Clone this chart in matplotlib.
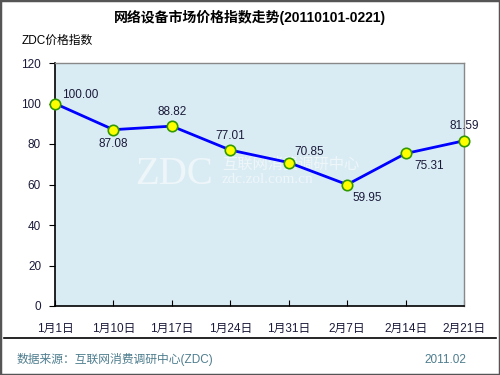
import matplotlib
matplotlib.use("Agg")
import matplotlib.pyplot as plt
from matplotlib.patches import Rectangle

plt.rcParams['font.family'] = ['Liberation Sans', 'Noto Sans CJK SC', 'DejaVu Sans']

categories = ["1月1日", "1月10日", "1月17日", "1月24日", "1月31日", "2月7日", "2月14日", "2月21日"]
values = [100.00, 87.08, 88.82, 77.01, 70.85, 59.95, 75.31, 81.59]
yticks = [0, 20, 40, 60, 80, 100, 120]
# label placement: (dx points, dy points, ha, va)
label_pos = [(5, 2, 'left', 'bottom'), (0, -6, 'center', 'top'), (0, 6, 'center', 'bottom'),
             (0, 6, 'center', 'bottom'), (4, 3, 'left', 'bottom'), (4, -5, 'left', 'top'),
             (6, -5, 'left', 'top'), (0, 6, 'center', 'bottom')]

fig = plt.figure(figsize=(5, 3.75), dpi=100)
fig.patch.set_facecolor('white')
ax = fig.add_axes([0.11, 0.184, 0.818, 0.648])
ax.set_facecolor('#DAECF3')

x = list(range(len(categories)))
ax.plot(x, values, color='#0000FF', lw=2, zorder=3)
ax.plot(x, values, 'o', ms=7.5, mfc='#FFFF00', mec='#339900', mew=1.2, zorder=4, clip_on=False)
txtc = '#1a1a3a'
for xi, v, (dx, dy, ha, va) in zip(x, values, label_pos):
    ax.annotate(f"{v:.2f}", (xi, v), xytext=(dx, dy), textcoords='offset points',
                ha=ha, va=va, fontsize=8.5, color=txtc, zorder=5)

# faint watermark
wm = '#EEF6F9'
ax.text(0.195, 0.50, "ZDC", transform=ax.transAxes, fontsize=28, family='Liberation Serif',
        color=wm, ha='left', va='baseline', zorder=1)
ax.text(0.408, 0.585, "互联网消费调研中心", transform=ax.transAxes, fontsize=11,
        family=['Noto Sans CJK SC'], color=wm, ha='left', va='center', zorder=1)
ax.text(0.408, 0.52, "zdc.zol.com.cn", transform=ax.transAxes, fontsize=11,
        family='Liberation Serif', color=wm, ha='left', va='center', zorder=1)

ax.set_xlim(0, len(categories) - 1)
ax.set_ylim(0, 120)
ax.set_xticks(x)
ax.set_xticklabels(categories, fontsize=8.5, color=txtc)
ax.set_yticks(yticks)
ax.set_yticklabels([str(t) for t in yticks], fontsize=8.5, color=txtc)
ax.tick_params(axis='x', direction='in', length=4, pad=12, color='black')
ax.tick_params(axis='y', direction='out', length=4, pad=6, color='black')
for s in ['left', 'bottom']:
    ax.spines[s].set_color('black')
    ax.spines[s].set_linewidth(1.2)
for s in ['top', 'right']:
    ax.spines[s].set_color('#888888')
    ax.spines[s].set_linewidth(1)

fig.text(0.5, 1 - 17/375, "网络设备市场价格指数走势(20110101-0221)", ha='center', va='center',
         fontsize=10, fontweight='bold', color='black')
fig.text(22/500, 1 - 41/375, "ZDC价格指数", ha='left', va='center', fontsize=8.5, color='black')
fig.add_artist(plt.Line2D([4/500, 496/500], [1 - 338/375, 1 - 338/375], color='black', lw=1.2))
fig.text(17/500, 1 - 360/375, "数据来源：互联网消费调研中心(ZDC)", ha='left', va='center',
         fontsize=8.5, color='#4E7D8E')
fig.text(424/500, 1 - 360/375, "2011.02", ha='left', va='center', fontsize=8.5, color='#4E7D8E')
fig.add_artist(Rectangle((0, 0), 1, 1, transform=fig.transFigure, fill=False,
                         edgecolor='#555555', lw=2.5))

fig.savefig("out.png", dpi=100)
